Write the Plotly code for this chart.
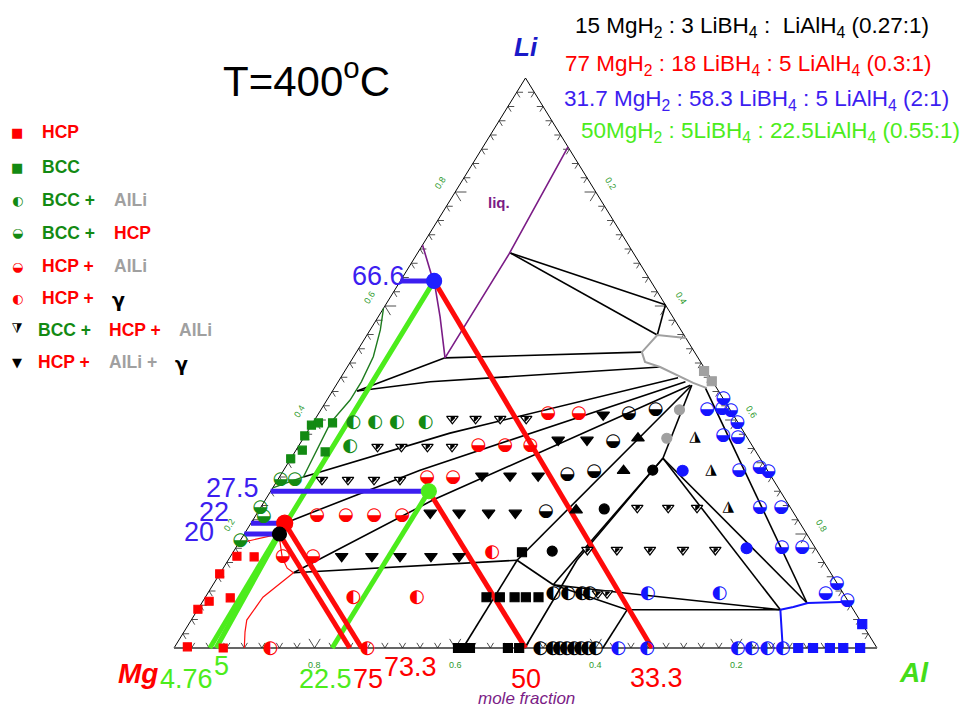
import plotly.graph_objects as go

# All compositions are mole fractions written as (Li, Al); Mg = 1 - Li - Al.

# ---- phase-field observations ----
HCP = [(0.161, 0.009), (0.160, 0.034), (0.130, 0.0), (0.082, 0.009), (0.068, 0.0),
       (0.088, 0.036), (0.002, 0.018), (0.0, 0.070)]
BCC = [(0.391, 0.0), (0.395, 0.008), (0.395, 0.028), (0.372, 0.0), (0.347, 0.009),
       (0.344, 0.043), (0.332, 0.0)]
BCC_ALLI = [(0.396, 0.057), (0.396, 0.088), (0.396, 0.119), (0.396, 0.160), (0.353, 0.074)]
BCC_HCP = [(0.295, 0.004), (0.296, 0.024), (0.246, 0.0), (0.230, 0.013), (0.189, 0.0)]
HCP_ALLI = [(0.412, 0.326), (0.412, 0.370), (0.356, 0.255), (0.356, 0.293), (0.356, 0.329),
            (0.300, 0.210), (0.300, 0.247), (0.233, 0.087), (0.233, 0.128), (0.233, 0.168),
            (0.233, 0.208), (0.160, 0.075), (0.160, 0.118)]
HCP_GAMMA = [(0.088, 0.211), (0.089, 0.301), (0.167, 0.369), (0.0, 0.137), (0.0, 0.275)]
BCC_HCP_ALLI = [(0.402, 0.195), (0.402, 0.228), (0.402, 0.263), (0.402, 0.300),
                (0.353, 0.113), (0.353, 0.147), (0.353, 0.184), (0.353, 0.219),
                (0.295, 0.063), (0.295, 0.100), (0.295, 0.137), (0.295, 0.174),
                (0.246, 0.536), (0.246, 0.580), (0.246, 0.621),
                (0.172, 0.502), (0.172, 0.544), (0.172, 0.591), (0.172, 0.638), (0.172, 0.684),
                (0.096, 0.555), (0.096, 0.568)]
HCP_ALLI_GAMMA = [(0.409, 0.406), (0.365, 0.364), (0.365, 0.405), (0.302, 0.287), (0.302, 0.327),
                  (0.302, 0.367), (0.237, 0.246), (0.237, 0.287), (0.237, 0.329), (0.237, 0.367),
                  (0.161, 0.158), (0.161, 0.201), (0.161, 0.241), (0.161, 0.285), (0.161, 0.325)]
BLK_HALF_LOW = [(0.412, 0.441), (0.418, 0.476), (0.363, 0.443), (0.305, 0.407), (0.309, 0.443),
                (0.240, 0.409)]
BLK_HALF_LEFT = [(0.095, 0.492), (0.095, 0.513), (0.095, 0.533), (0.095, 0.544),
                 (0.0, 0.521), (0.0, 0.539), (0.0, 0.549), (0.0, 0.559), (0.0, 0.569),
                 (0.0, 0.579), (0.0, 0.589), (0.0, 0.600)]
BLK_TRI_UP = [(0.368, 0.476), (0.311, 0.484), (0.242, 0.451)]
BLK_TRI_UP_HALF = [(0.370, 0.556), (0.312, 0.608), (0.247, 0.665)]
BLK_DOT = [(0.312, 0.525), (0.244, 0.490), (0.170, 0.453)]
BLK_SQ = [(0.089, 0.400), (0.089, 0.419), (0.089, 0.440), (0.089, 0.456), (0.089, 0.474),
          (0.168, 0.411), (0.0, 0.404), (0.0, 0.413), (0.0, 0.421), (0.0, 0.475), (0.0, 0.491)]
GRAY_DOT = [(0.418, 0.510), (0.368, 0.517)]
GRAY_SQ = [(0.486, 0.511), (0.468, 0.531)]
BLUE_HALF_LOW = [(0.437, 0.563), (0.421, 0.569), (0.416, 0.584), (0.395, 0.604), (0.419, 0.549),
                 (0.372, 0.595), (0.370, 0.617), (0.316, 0.675), (0.309, 0.691), (0.312, 0.648),
                 (0.247, 0.710), (0.247, 0.740), (0.177, 0.776), (0.177, 0.805), (0.114, 0.886),
                 (0.096, 0.879), (0.084, 0.916)]
BLUE_HALF_LEFT = [(0.096, 0.626), (0.096, 0.728), (0.0, 0.632), (0.0, 0.673), (0.0, 0.802),
                  (0.0, 0.822), (0.0, 0.844), (0.0, 0.866)]
BLUE_DOT = [(0.311, 0.568), (0.175, 0.727)]
BLUE_SQ = [(0.0, 0.888), (0.0, 0.909), (0.0, 0.933), (0.0, 0.952), (0.0, 0.976), (0.042, 0.958)]

# ---- phase boundaries ----
BOUNDARIES = [
    [(0.693, 0.132), (0.602, 0.398)],
    [(0.693, 0.132), (0.549, 0.413)],
    [(0.602, 0.398), (0.549, 0.413)],
    [(0.509, 0.131), (0.519, 0.406)],
    [(0.451, 0.035), (0.509, 0.131)],
    [(0.451, 0.035), (0.467, 0.131), (0.493, 0.445)],
    [(0.300, 0.034), (0.377, 0.204), (0.474, 0.480)],
    [(0.219, 0.048), (0.312, 0.194), (0.467, 0.494)],
    [(0.132, 0.104), (0.260, 0.239), (0.461, 0.504)],
    [(0.132, 0.104), (0.154, 0.411)],
    [(0.154, 0.411), (0.0, 0.411)],
    [(0.154, 0.411), (0.111, 0.484)],
    [(0.154, 0.411), (0.461, 0.506)],
    [(0.111, 0.484), (0.333, 0.529)],
    [(0.0, 0.499), (0.154, 0.496), (0.333, 0.529)],
    [(0.111, 0.484), (0.096, 0.596), (0.067, 0.829)],
    [(0.111, 0.484), (0.067, 0.611), (0.067, 0.829)],
    [(0.067, 0.611), (0.0, 0.610)],
    [(0.456, 0.528), (0.079, 0.861)],
    [(0.461, 0.506), (0.333, 0.529)],
    [(0.333, 0.529), (0.067, 0.829)],
    [(0.333, 0.529), (0.079, 0.861)],
]
LIQUID = [
    [(0.879, 0.121), (0.691, 0.131), (0.509, 0.131)],
    [(0.707, 0.0), (0.663, 0.033), (0.633, 0.055), (0.581, 0.088), (0.509, 0.131)],
]
ALLI_FIELD = [(0.544, 0.456), (0.549, 0.413), (0.519, 0.406), (0.502, 0.419), (0.493, 0.445),
              (0.465, 0.506), (0.456, 0.530)]
BCC_EDGE = [(0.596, 0.0), (0.558, 0.0145), (0.511, 0.028), (0.467, 0.033), (0.435, 0.033),
            (0.395, 0.025), (0.300, 0.034), (0.281, 0.0)]
HCP_EDGE = [(0.184, 0.0), (0.193, 0.026), (0.200, 0.050), (0.184, 0.059), (0.158, 0.075),
            (0.140, 0.091), (0.132, 0.104), (0.089, 0.082), (0.049, 0.079), (0.028, 0.087),
            (0.0, 0.100)]
AL_EDGE = [
    [(0.067, 0.829), (0.072, 0.845), (0.079, 0.862), (0.081, 0.919)],
    [(0.067, 0.829), (0.014, 0.859), (0.0, 0.866)],
]

# ---- the four hydride mixtures and their construction lines ----
MIX_BLUE = (0.644, 0.048)
MIX_GREEN = (0.275, 0.225)
MIX_RED = (0.219, 0.048)
MIX_BLACK = (0.200, 0.050)
CONST_MG = [[MIX_BLUE, (0.0, 0.680)], [MIX_GREEN, (0.0, 0.500)],
            [MIX_RED, (0.0, 0.267)], [MIX_BLACK, (0.0, 0.250)]]
CONST_AL = [[MIX_BLUE, MIX_BLACK, (0.0, 0.060)], [MIX_RED, (0.0, 0.051)],
            [MIX_GREEN, (0.0, 0.225)]]
CONST_LI = [[(0.644, 0.0), MIX_BLUE], [(0.275, 0.0), MIX_GREEN],
            [(0.219, 0.0), MIX_RED], [(0.200, 0.0), MIX_BLACK]]

TICK_STEP = 0.025
TICK_LABELS = ["0.2", "0.4", "0.6", "0.8"]


def proj(pts):
    # ternary (Li, Al) -> plane: Mg corner at 0, Al corner at x=1, Li corner at y=1
    return [al + 0.5 * li for li, al in pts], [li for li, al in pts]


def joined(paths):
    xs, ys = [], []
    for p in paths:
        x, y = proj(p)
        xs += x + [None]
        ys += y + [None]
    return xs, ys


fig = go.Figure()


def add_lines(paths, color, width):
    x, y = joined(paths)
    fig.add_trace(go.Scatter(x=x, y=y, mode="lines", line=dict(color=color, width=width),
                             hoverinfo="skip"))


def add_marks(pts, symbol, color, size, line_color=None):
    x, y = proj(pts)
    fig.add_trace(go.Scatter(x=x, y=y, mode="markers", hoverinfo="skip",
                             marker=dict(symbol=symbol, color=color, size=size,
                                         line=dict(color=line_color or color, width=1.2))))


def add_glyphs(pts, glyph, color, size=18):
    x, y = proj(pts)
    fig.add_trace(go.Scatter(x=x, y=y, mode="text", text=[glyph] * len(pts), hoverinfo="skip",
                             textposition="middle center",
                             textfont=dict(family="DejaVu Sans", size=size, color=color)))


# triangle frame
add_lines([[(1.0, 0.0), (0.0, 0.0)], [(1.0, 0.0), (0.0, 1.0)]], "black", 1)
add_lines([[(0.0, 0.0), (0.0, 1.0)]], "#666666", 2)

# edge ticks, drawn along the two grid directions like the original
n_ticks = int(round(1 / TICK_STEP))
tick_paths = []
for i in range(1, n_ticks):
    t = i * TICK_STEP
    d = 0.016 if i % 8 == 0 else 0.009
    tick_paths += [[(t, d), (t, 0.0), (t - d, d)],                       # Li edge
                   [(d, 1 - t - d), (0.0, 1 - t), (d, 1 - t)],           # Mg edge
                   [(1 - t, t - d), (1 - t, t), (1 - t - d, t)]]         # Al edge
add_lines(tick_paths, "#222222", 0.8)

# phase boundaries
add_lines(BOUNDARIES, "black", 1.6)
add_lines(LIQUID, "#7b1c86", 1.6)
add_lines([ALLI_FIELD], "#a0a0a0", 2)
add_lines([BCC_EDGE], "#1e7b1e", 1.4)
add_lines([HCP_EDGE], "#ff1010", 1.2)
add_lines(AL_EDGE, "#1414ff", 2)

# construction lines
add_lines(CONST_AL, "#4cec1c", 5)
add_lines(CONST_MG, "#ff0a0a", 5)
add_lines(CONST_LI, "#3c1ef0", 5)

# observations
add_marks(HCP, "square", "#ff0000", 8)
add_marks(BCC, "square", "#138a13", 8)
add_glyphs(BCC_ALLI, "◐", "#138a13")
add_glyphs(BCC_HCP, "◒", "#138a13")
add_glyphs(HCP_ALLI, "◒", "#ff0000")
add_glyphs(HCP_GAMMA, "◐", "#ff0000")
add_marks(BCC_HCP_ALLI, "triangle-down", "white", 10, "black")
add_marks(BCC_HCP_ALLI, "triangle-nw", "black", 4)
add_marks(HCP_ALLI_GAMMA, "triangle-down", "black", 11)
add_glyphs(BLK_HALF_LOW, "◒", "black")
add_glyphs(BLK_HALF_LEFT, "◐", "black")
add_marks(BLK_TRI_UP, "triangle-up", "black", 11)
add_glyphs(BLK_TRI_UP_HALF, "◮", "black", 15)
add_marks(BLK_DOT, "circle", "black", 10)
add_marks(BLK_SQ, "square", "black", 9)
add_marks(GRAY_DOT, "circle", "#a0a0a0", 10)
add_marks(GRAY_SQ, "square", "#a0a0a0", 9)
add_glyphs(BLUE_HALF_LOW, "◒", "#1414ff")
add_glyphs(BLUE_HALF_LEFT, "◐", "#1414ff")
add_marks(BLUE_DOT, "circle", "#1414ff", 11)
add_marks(BLUE_SQ, "square", "#1414ff", 9)

# mixture points
add_marks([MIX_BLUE], "circle", "#2020ff", 15)
add_marks([MIX_GREEN], "circle", "#4cec1c", 15)
add_marks([MIX_RED], "circle", "#ff0000", 16)
add_marks([MIX_BLACK], "circle", "black", 14)

ann = []
# tick labels
for k, lab in enumerate(TICK_LABELS):
    t = 0.2 * (k + 1)
    x, y = proj([(t, 0.0)])
    ann.append(dict(x=x[0], y=y[0], text=lab, xshift=-15, yshift=9, textangle=-58))
    x, y = proj([(0.0, 1 - t)])
    ann.append(dict(x=x[0], y=y[0], text=lab, yshift=-17))
    x, y = proj([(1 - t, t)])
    ann.append(dict(x=x[0], y=y[0], text=lab, xshift=15, yshift=8, textangle=58))
for a in ann:
    a.update(xref="x", yref="y", showarrow=False, xanchor="center", yanchor="middle",
             font=dict(family="Arial, Liberation Sans", size=9, color="#2e9a2e"))


def label(px, py, text, size, color, bold=False, italic=False, anchor="center",
          family="Arial, Liberation Sans", angle=0):
    if bold:
        text = "<b>" + text + "</b>"
    if italic:
        text = "<i>" + text + "</i>"
    ann.append(dict(x=px / 964, y=1 - py / 707, xref="paper", yref="paper", text=text,
                    showarrow=False, xanchor=anchor, yanchor="middle", textangle=angle,
                    font=dict(family=family, size=size, color=color)))


label(306, 78, "T=400<sup>o</sup>C", 42, "black")
label(526, 47, "Li", 26, "#1a1ac8", bold=True, italic=True)
label(138, 673, "Mg", 28, "#ff0000", bold=True, italic=True)
label(914, 672, "Al", 28, "#44dd1a", bold=True, italic=True)
label(526, 698, "mole fraction", 17, "#7b1c86", italic=True)
label(499, 202, "liq.", 15, "#7b1c86", bold=True)

label(752, 27, "15 MgH<sub>2</sub> : 3 LiBH<sub>4</sub> :  LiAlH<sub>4</sub> (0.27:1)", 22.5, "black")
label(748, 65, "77 MgH<sub>2</sub> : 18 LiBH<sub>4</sub> : 5 LiAlH<sub>4</sub> (0.3:1)", 22.5, "#ff0000")
label(756, 100, "31.7 MgH<sub>2</sub> : 58.3 LiBH<sub>4</sub> : 5 LiAlH<sub>4</sub> (2:1)", 22.5, "#3c1ef0")
label(770, 132, "50MgH<sub>2</sub> : 5LiBH<sub>4</sub> : 22.5LiAlH<sub>4</sub> (0.55:1)", 22.5, "#4cec1c")

# values of the construction lines
label(378, 276, "66.6", 27, "#3c1ef0")
label(232, 488, "27.5", 27, "#3c1ef0")
label(214, 512, "22", 27, "#3c1ef0")
label(199, 532, "20", 27, "#3c1ef0")
label(186, 679, "4.76", 27, "#4cec1c")
label(221, 666, "5", 27, "#4cec1c")
label(325, 679, "22.5", 27, "#4cec1c")
label(368, 679, "75", 27, "#ff0000")
label(410, 667, "73.3", 27, "#ff0000")
label(526, 679, "50", 27, "#ff0000")
label(656, 678, "33.3", 27, "#ff0000")

# legend
rows = [
    (132, "■", "#ff0000", 0, [(40, "HCP", "#ff0000")]),
    (167, "■", "#138a13", 0, [(40, "BCC", "#138a13")]),
    (200, "◐", "#138a13", 0, [(40, "BCC +", "#138a13"), (112, "AlLi", "#a0a0a0")]),
    (233, "◒", "#138a13", 0, [(40, "BCC +", "#138a13"), (112, "HCP", "#ff0000")]),
    (266, "◒", "#ff0000", 0, [(40, "HCP +", "#ff0000"), (112, "AlLi", "#a0a0a0")]),
    (298, "◐", "#ff0000", 0, [(40, "HCP +", "#ff0000"), (110, "γ", "black")]),
    (330, "◭", "black", 180, [(36, "BCC +", "#138a13"), (107, "HCP +", "#ff0000"),
                              (177, "AlLi", "#a0a0a0")]),
    (362, "▼", "black", 0, [(36, "HCP +", "#ff0000"), (107, "AlLi +", "#a0a0a0"),
                            (173, "γ", "black")]),
]
for py, glyph, col, ang, parts in rows:
    label(17, py, glyph, 13, col, family="DejaVu Sans", angle=ang)
    for px, txt, c in parts:
        if txt == "γ":
            label(px, py + 2, txt, 19, c, bold=True, anchor="left", family="DejaVu Sans")
        else:
            label(px, py, txt, 17.5, c, bold=True, anchor="left")

fig.update_layout(
    width=964, height=707, autosize=False,
    margin=dict(l=0, r=0, t=0, b=0),
    paper_bgcolor="white", plot_bgcolor="white",
    showlegend=False, hovermode=False,
    xaxis=dict(range=[-174 / 703, 790 / 703], visible=False, fixedrange=True),
    yaxis=dict(range=[-59 / 570, 648 / 570], visible=False, fixedrange=True),
    annotations=ann,
)

fig.write_html("out.html", config={"displayModeBar": False},
               post_script="document.body.style.margin='0';")
